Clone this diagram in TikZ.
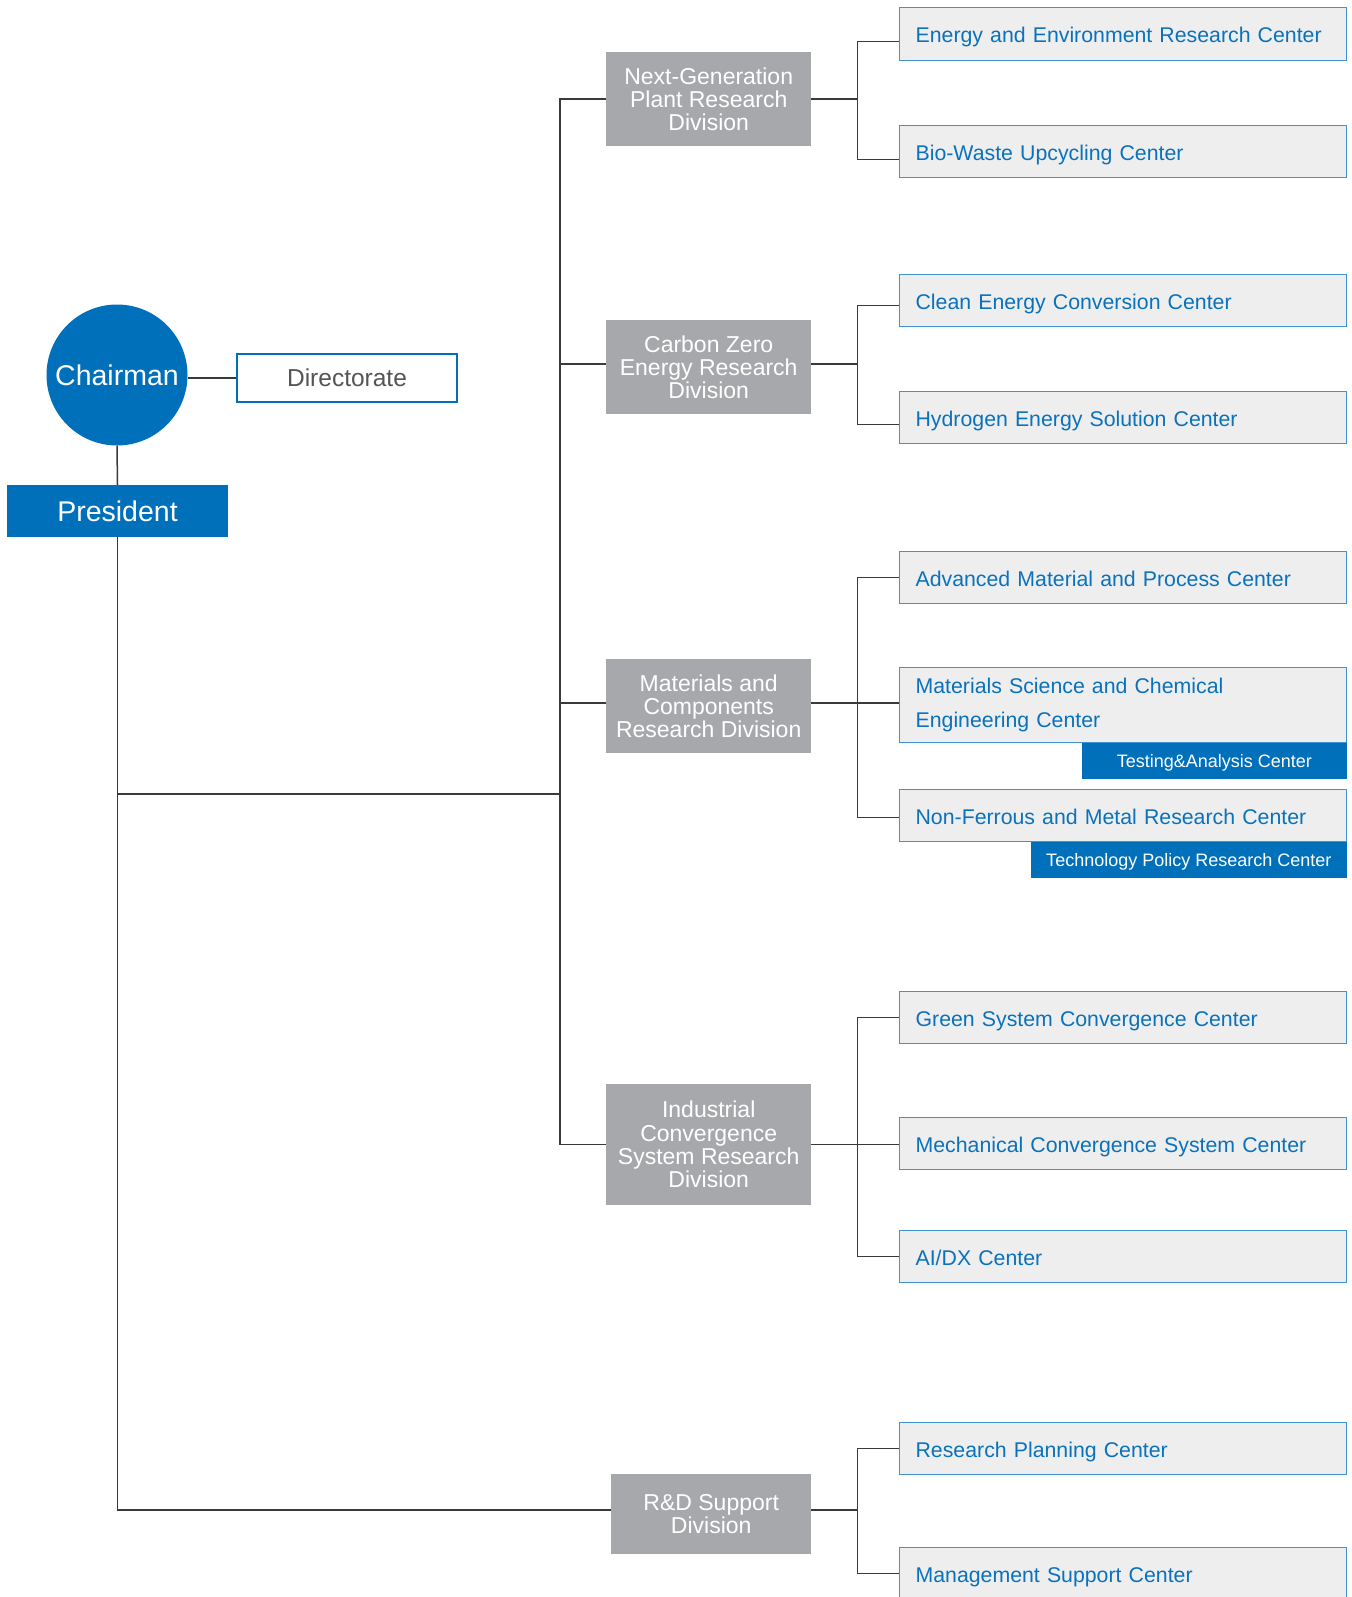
\documentclass[tikz,border=0pt]{standalone}
\usepackage{fontspec}
\setmainfont{Liberation Sans}
\definecolor{kblue}{HTML}{0070BB}
\definecolor{ctext}{HTML}{0A72BC}
\definecolor{cborder}{HTML}{3F93D2}
\definecolor{cfill}{HTML}{EEEEEE}
\definecolor{divgray}{HTML}{A7A8AB}
\definecolor{linec}{HTML}{3A3A3A}
\definecolor{dirtext}{HTML}{555555}
\begin{document}
\begin{tikzpicture}[x=1pt,y=-1pt,
  conn/.style={draw=linec, line width=1.5pt},
  divbox/.style={fill=divgray, text=white, align=center, anchor=north west,
    font=\fontsize{23}{23.3}\selectfont, inner sep=0pt, minimum width=205pt},
  cbox/.style={draw=cborder, line width=1.2pt, fill=cfill, text=ctext, anchor=north west,
    minimum height=52pt, text width=415pt, align=left, inner xsep=16pt, inner ysep=0pt,
    font=\fontsize{21.3}{34}\selectfont},
  cboxone/.style={cbox, text height=17.4pt, text depth=0pt},
  subbox/.style={fill=kblue, text=white, anchor=north east, inner sep=0pt,
    minimum height=36pt, text height=12.9pt, text depth=0pt, font=\fontsize{18}{20}\selectfont}
]
\useasboundingbox (0,0) rectangle (1351,1597);
\fill[white] (0,0) rectangle (1351,1597);

% left part
\node[circle, fill=kblue, text=white, minimum size=141pt, inner sep=0pt,
  font=\fontsize{28.5}{30}\selectfont] (chair) at (117,375) {Chairman};
\node[draw=kblue, line width=2.2pt, fill=white, text=dirtext, minimum width=220pt,
  minimum height=48pt, inner sep=0pt, font=\fontsize{24.5}{26}\selectfont] (dir) at (347,378) {Directorate};
\node[fill=kblue, text=white, minimum width=221pt, minimum height=52pt, inner sep=0pt,
  font=\fontsize{28.5}{30}\selectfont] (pres) at (117.5,511) {President};

% divisions
\node[divbox, minimum height=94pt] (d1) at (606,52) {Next-Generation\\Plant Research\\Division};
\node[divbox, minimum height=94pt] (d2) at (606,320) {Carbon Zero\\Energy Research\\Division};
\node[divbox, minimum height=94pt] (d3) at (606,659) {Materials and\\Components\\Research Division};
\node[divbox, minimum height=121pt] (d4) at (606,1084) {Industrial\\Convergence\\System Research\\Division};
\node[divbox, minimum height=80pt, minimum width=200pt] (d5) at (611,1474) {R\&D Support\\Division};

% centers
\node[cboxone, minimum height=53pt] (e1) at (899,7) {Energy and Environment Research Center};
\node[cboxone] (e2) at (899,125) {Bio-Waste Upcycling Center};
\node[cboxone] (e3) at (899,274) {Clean Energy Conversion Center};
\node[cboxone] (e4) at (899,391) {Hydrogen Energy Solution Center};
\node[cboxone] (e5) at (899,551) {Advanced Material and Process Center};
\node[cbox, minimum height=75pt] (e6) at (899,667) {Materials Science and Chemical\\Engineering Center};
\node[cboxone] (e7) at (899,789) {Non-Ferrous and Metal Research Center};
\node[cboxone] (e8) at (899,991) {Green System Convergence Center};
\node[cboxone] (e9) at (899,1117) {Mechanical Convergence System Center};
\node[cboxone] (e10) at (899,1230) {AI/DX Center};
\node[cboxone] (e11) at (899,1422) {Research Planning Center};
\node[cboxone] (e12) at (899,1547) {Management Support Center};

\node[subbox, minimum width=265pt] (s1) at (1347,743) {Testing\&Analysis Center};
\node[subbox, minimum width=316pt] (s2) at (1347,842) {Technology Policy Research Center};

% connector points on the divisions
\coordinate (d2w) at ([yshift=3pt]d2.west);
\coordinate (d2e) at ([yshift=3pt]d2.east);
\coordinate (d3w) at ([yshift=3pt]d3.west);
\coordinate (d3e) at ([yshift=3pt]d3.east);
\coordinate (d5w) at ([yshift=4pt]d5.west);
\coordinate (d5e) at ([yshift=4pt]d5.east);

% connectors left
\draw[conn] (chair.east |- dir.west) -- (dir.west);
\draw[conn] (chair.south) -- (pres.north);
\draw[conn] (pres.south) |- (d5w);
\coordinate (tr) at (560,794);
\draw[conn] (pres.south |- tr) -- (tr);
\draw[conn] (d1.west) -| (tr) |- (d4.west);
\draw[conn] (d2w) -- (d2w -| tr);
\draw[conn] (d3w) -- (d3w -| tr);

% connectors right
\path (d1.east) ++(46,0) coordinate (j1);
\path (d2e) ++(46,0) coordinate (j2);
\path (d3e) ++(46,0) coordinate (j3);
\path (d4.east) ++(46,0) coordinate (j4);
\path (d5e) ++(46,0) coordinate (j5);

\draw[conn] (d1.east) -- (j1);
\draw[conn] ([yshift=-7.5pt]e1.west) -| (j1) |- ([yshift=-8pt]e2.west);
\draw[conn] (d2e) -- (j2);
\draw[conn] ([yshift=-5pt]e3.west) -| (j2) |- ([yshift=-7pt]e4.west);
\draw[conn] (d3e) -- (d3e -| e6.west);
\draw[conn] (e5.west) -| (j3) |- ([yshift=-2pt]e7.west);
\draw[conn] (d4.east) -- (d4.east -| e9.west);
\draw[conn] (e8.west) -| (j4) |- (e10.west);
\draw[conn] (d5e) -- (j5);
\draw[conn] (e11.west) -| (j5) |- (e12.west);
\end{tikzpicture}
\end{document}
